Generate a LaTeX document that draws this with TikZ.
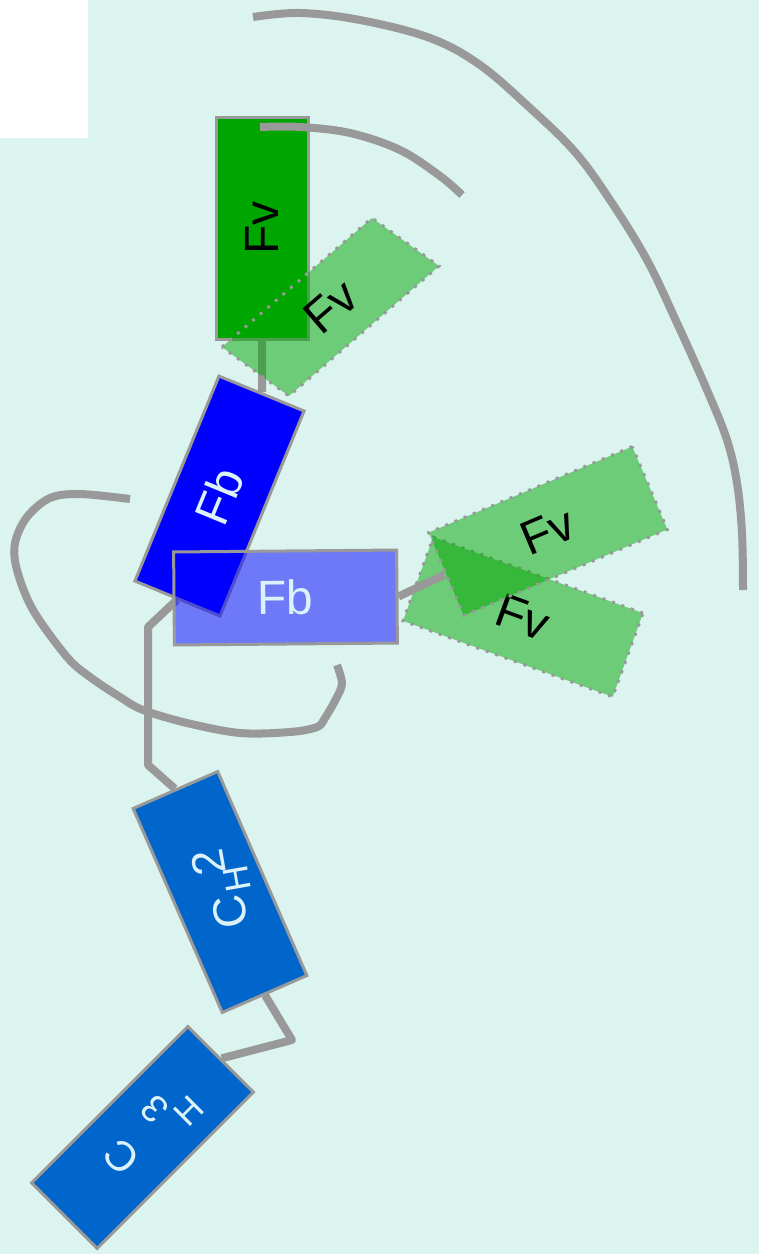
\documentclass[tikz,border=0pt]{standalone}
\usepackage{fontspec}
\setmainfont{Liberation Sans}
\definecolor{bg}{RGB}{220,244,239}
\definecolor{wire}{RGB}{153,153,153}
\definecolor{fvgreen}{RGB}{0,166,0}
\definecolor{fbblue}{RGB}{0,0,255}
\definecolor{chblue}{RGB}{0,102,204}
\definecolor{labtxt}{RGB}{220,242,250}
\pgfdeclarelayer{canvas}
\pgfdeclarelayer{wires}
\pgfdeclarelayer{upper}
\pgfsetlayers{canvas,wires,main,upper}
\begin{document}
\begin{tikzpicture}[x=1pt,y=-1pt,
  wirestyle/.style={draw=wire,line width=8pt,line join=round},
  solidbox/.style={rectangle,draw=wire,line width=3pt,inner sep=0pt},
  dotedge/.style={draw=wire,line width=3pt,dash pattern=on 3pt off 7pt},
  glassbox/.style={rectangle,dotedge,fill=fvgreen,fill opacity=0.5,text opacity=1,inner sep=0pt},
  lab/.style={font=\fontsize{48}{48}\selectfont},
  glyph/.style={inner sep=0pt,text=labtxt},
]
\begin{pgfonlayer}{canvas}
  \fill[bg] (0,0) rectangle (759,1254);
  \fill[white] (0,0) rectangle (88,138);
\end{pgfonlayer}
\useasboundingbox (0,0) rectangle (759,1254);

% opaque residue boxes
\node[solidbox,fill=fvgreen,lab,minimum width=222pt,minimum height=92pt,rotate=90]
  (Fv1) at (262,228) {Fv};

% arc running over the top of the green box
\coordinate (arcS) at (260,127);
\coordinate (arcE) at (462,195);
\draw[wirestyle] plot[smooth,tension=0.6] coordinates
  {(arcS) (300,127) (350,133) (400,150) (440,176) (arcE)};

\node[solidbox,fill=fbblue,lab,text=labtxt,minimum width=221.5pt,minimum height=92pt,rotate=67.7]
  (Fb1) at (219.5,496) {Fb};
\node[solidbox,fill=chblue,minimum width=222.6pt,minimum height=92.3pt,rotate=-66.4]
  (CH2) at (220,892) {};
\node[solidbox,fill=chblue,minimum width=221pt,minimum height=92.6pt,rotate=45]
  (CH3) at (142.5,1137.5) {};

% glyphs of the two methyl/methylene labels
\node[glyph,font=\fontsize{46}{46}\selectfont,rotate=100] (ch2c) at (230,912) {C};
\node[glyph,font=\fontsize{36}{36}\selectfont,rotate=100] (ch2h) at (237,879) {H};
\node[glyph,font=\fontsize{46}{46}\selectfont,rotate=100] (ch2n) at (208,863) {2};
\node[glyph,font=\fontsize{42}{42}\selectfont,rotate=135] (ch3c) at (122,1157) {C};
\node[glyph,font=\fontsize{38}{38}\selectfont,rotate=135] (ch3n) at (155,1109) {3};
\node[glyph,font=\fontsize{35}{35}\selectfont,rotate=45] (ch3h) at (189,1111) {H};

% slanted translucent box beside the green one
\coordinate (g1) at (222,347);
\coordinate (g2) at (372,218);
\coordinate (g3) at (439,266);
\coordinate (g4) at (289,396);
\path[dotedge,fill=fvgreen,fill opacity=0.5] (g1) -- (g2) -- (g3) -- (g4) -- cycle;
\node[lab,inner sep=0pt,rotate=40.7] (Fv2) at (330.5,306.5) {Fv};

% translucent boxes
\node[rectangle,draw=wire,line width=3pt,inner sep=0pt,fill=fbblue,fill opacity=0.5,
      text opacity=1,text=labtxt,lab,minimum width=223pt,minimum height=93pt,rotate=0.5]
  (Fb2) at (285.5,597.5) {Fb};
\node[glassbox,lab,minimum width=223pt,minimum height=89pt,rotate=-19.9]
  (Fv4) at (523,617) {Fv};
\begin{pgfonlayer}{upper}
  \node[glassbox,lab,minimum width=221pt,minimum height=90pt,rotate=22.9]
    (Fv3) at (548,531) {Fv};
\end{pgfonlayer}
\draw[wirestyle] (Fb2.east) -- (Fv3.west);

% bonds running beneath the boxes
\begin{pgfonlayer}{wires}
  \draw[wirestyle] (Fv1.west) -- (Fb1.east);
  \draw[wirestyle] (Fb1.west) -- (148,627) -- (148,765) -- (CH2.west);
  \draw[wirestyle] (CH2.east) -- (292,1040) -- (CH3.east);
\end{pgfonlayer}

% long outer arc
\coordinate (bigS) at (253,17);
\coordinate (bigE) at (743,590);
\draw[wirestyle] plot[smooth,tension=0.6] coordinates
  {(bigS) (300,13) (360,20) (430,38) (480,65) (530,108) (575,152) (610,200)
   (647,260) (677,323) (707,390) (727,440) (737,483) (742,533) (bigE)};

% loop on the left
\coordinate (loopS) at (130,499);
\coordinate (loopE) at (337,665);
\draw[wirestyle] plot[smooth,tension=0.55] coordinates
  {(loopS) (80,494) (50,498) (27,517) (15,543) (17,570) (33,610) (67,657)
   (90,677) (120,697) (143,710) (187,723) (240,733) (290,732) (317,727)
   (325,718) (337,697) (342,683) (loopE)};
\end{tikzpicture}
\end{document}
